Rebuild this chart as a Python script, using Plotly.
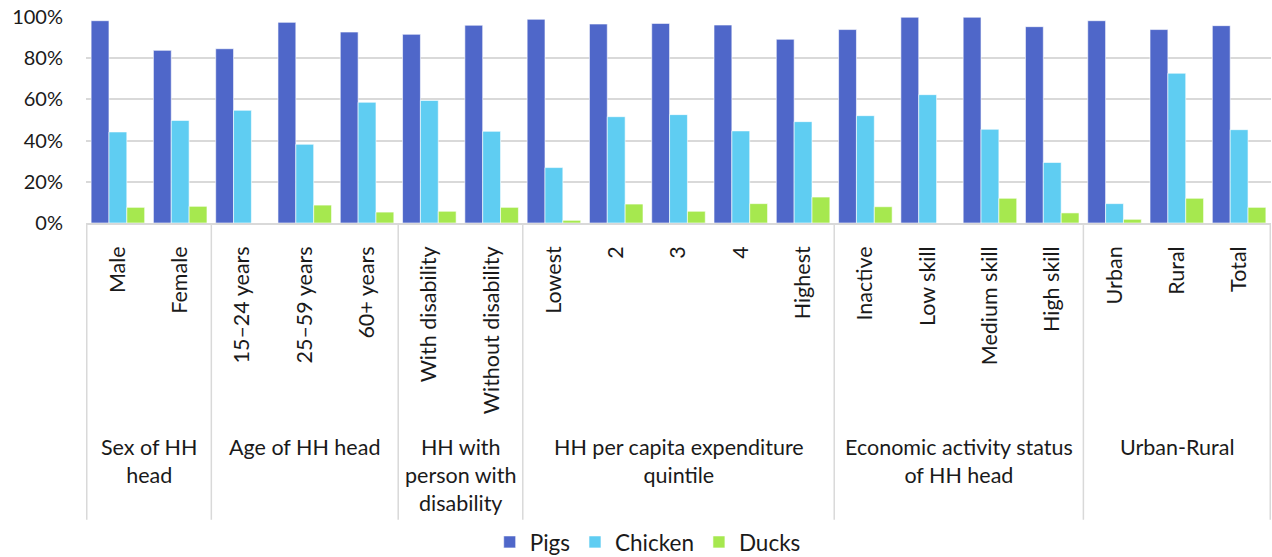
import plotly.graph_objects as go

# Household breakdown categories (x axis) and their grouping
categories = [
    "Male", "Female",
    "15–24 years", "25–59 years", "60+ years",
    "With disability", "Without disability",
    "Lowest", "2", "3", "4", "Highest",
    "Inactive", "Low skill", "Medium skill", "High skill",
    "Urban", "Rural", "Total",
]
group_labels = [
    "Sex of HH<br>head",
    "Age of HH head",
    "HH with<br>person with<br>disability",
    "HH per capita expenditure<br>quintile",
    "Economic activity status<br>of HH head",
    "Urban-Rural",
]
group_sizes = [2, 3, 2, 5, 4, 3]

# Share of households raising each type of livestock (%)
pigs = [98.2, 83.8, 84.6, 97.4, 92.7, 91.6, 96.0, 98.9, 96.6, 96.9, 96.1, 89.2,
        93.9, 99.9, 99.9, 95.3, 98.2, 93.9, 95.8]
chicken = [44.2, 49.8, 54.7, 38.2, 58.6, 59.5, 44.5, 26.9, 51.6, 52.6, 44.7, 49.2,
           52.1, 62.3, 45.5, 29.4, 9.4, 72.7, 45.3]
ducks = [7.6, 8.1, 0.0, 8.7, 5.3, 5.7, 7.6, 1.3, 9.2, 5.7, 9.4, 12.6,
         7.9, 0.0, 12.0, 4.9, 1.8, 12.0, 7.6]

series = [("Pigs", pigs, "#4F67C9"), ("Chicken", chicken, "#5FCDF2"), ("Ducks", ducks, "#A6E84F")]

fig = go.Figure()
for name, vals, color in series:
    fig.add_trace(go.Bar(
        x=categories, y=vals, name=name,
        marker=dict(color=color, line=dict(color="rgba(255,255,255,0.6)", width=1)),
    ))

FONT = "Lato, 'Open Sans', sans-serif"
GRID = "#D9D9D9"

# Group dividers and group titles under the category labels
bottom = -1.44
shapes = []
annotations = []
start = 0
shapes.append(dict(type="line", xref="x", yref="paper", x0=-0.5, x1=-0.5, y0=0, y1=bottom,
                   line=dict(color=GRID, width=1.5)))
for label, size in zip(group_labels, group_sizes):
    end = start + size
    shapes.append(dict(type="line", xref="x", yref="paper", x0=end - 0.5, x1=end - 0.5,
                       y0=0, y1=bottom, line=dict(color=GRID, width=1.5)))
    annotations.append(dict(
        text=label, xref="x", yref="paper", x=(start + end - 1) / 2, y=-1.015,
        xanchor="center", yanchor="top", showarrow=False, align="center",
        font=dict(family=FONT, size=21.5, color="#1a1a1a"),
    ))
    start = end

fig.update_layout(
    width=1272, height=557,
    margin=dict(l=86, r=1, t=17, b=334, autoexpand=False),
    paper_bgcolor="white", plot_bgcolor="white",
    barmode="group", bargap=0.14, bargroupgap=0,
    font=dict(family=FONT, size=20, color="#1a1a1a"),
    shapes=shapes, annotations=annotations,
    legend=dict(orientation="h", x=0.474, xanchor="center", y=-1.55, yanchor="middle",
                font=dict(family=FONT, size=22.5, color="#1a1a1a"),
                itemwidth=30, traceorder="normal"),
    xaxis=dict(type="category", tickangle=-90, showgrid=False, showline=True,
               linecolor=GRID, linewidth=1.5, ticks="", ticklabelstandoff=13,
               tickfont=dict(family=FONT, size=21.5, color="#1a1a1a")),
    yaxis=dict(range=[0, 100], dtick=20, ticksuffix="%", showgrid=True, gridcolor=GRID,
               gridwidth=1.5, zeroline=False, showline=False, ticks="",
               ticklabelstandoff=22, tickfont=dict(family=FONT, size=20, color="#1a1a1a")),
)

fig.write_html("out.html")
